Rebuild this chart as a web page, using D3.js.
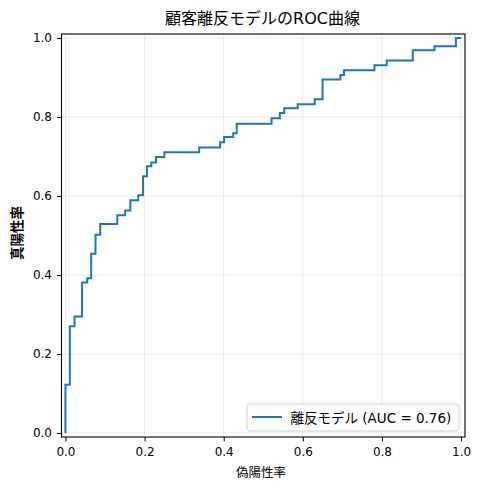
<!DOCTYPE html>
<html>
<head>
<meta charset="utf-8">
<script src="https://cdn.jsdelivr.net/npm/d3@7"></script>
<style>
  body { margin: 0; background: #fff; }
  text { font-family: "DejaVu Sans", "Noto Sans CJK JP", sans-serif; fill: #000; }
</style>
</head>
<body>
<script>
// ROC corner points (false positive rate, true positive rate)
var fpr = [0, 0, 0.011, 0.011, 0.023, 0.023, 0.042, 0.042, 0.055, 0.055, 0.065, 0.065,
    0.076, 0.076, 0.088, 0.088, 0.131, 0.131, 0.151, 0.151, 0.164, 0.164, 0.184, 0.184,
    0.196, 0.196, 0.206, 0.206, 0.217, 0.217, 0.229, 0.229, 0.250, 0.250, 0.338, 0.338,
    0.391, 0.391, 0.401, 0.401, 0.424, 0.424, 0.433, 0.433, 0.521, 0.521, 0.542, 0.542,
    0.553, 0.553, 0.587, 0.587, 0.630, 0.630, 0.650, 0.650, 0.695, 0.695, 0.704, 0.704,
    0.781, 0.781, 0.812, 0.812, 0.878, 0.878, 0.933, 0.933, 0.987, 0.987, 1];
var tpr = [0, 0.122, 0.122, 0.270, 0.270, 0.295, 0.295, 0.381, 0.381, 0.392, 0.392, 0.454,
    0.454, 0.502, 0.502, 0.529, 0.529, 0.551, 0.551, 0.563, 0.563, 0.589, 0.589, 0.602,
    0.602, 0.650, 0.650, 0.675, 0.675, 0.685, 0.685, 0.699, 0.699, 0.711, 0.711, 0.723,
    0.723, 0.736, 0.736, 0.749, 0.749, 0.759, 0.759, 0.783, 0.783, 0.797, 0.797, 0.810,
    0.810, 0.822, 0.822, 0.832, 0.832, 0.845, 0.845, 0.895, 0.895, 0.906, 0.906, 0.918,
    0.918, 0.931, 0.931, 0.943, 0.943, 0.969, 0.969, 0.979, 0.979, 1, 1];
var xTicks = [0, 0.2, 0.4, 0.6, 0.8, 1.0];
var yTicks = [0, 0.2, 0.4, 0.6, 0.8, 1.0];
var title = "顧客離反モデルのROC曲線";
var xLabel = "偽陽性率";
var yLabel = "真陽性率";
var legendLabel = "離反モデル (AUC = 0.76)";

// set the dimensions and margins of the graph
var margin = { top: 34, right: 17, bottom: 53, left: 61.5 },
    width = 482 - margin.left - margin.right,
    height = 490 - margin.top - margin.bottom;

var x = d3.scaleLinear().domain([-0.01, 1.01]).range([0, width]);
var y = d3.scaleLinear().domain([-0.01, 1.01]).range([height, 0]);

var points = fpr.map(function (d, i) { return [d, tpr[i]]; });

var rocline = d3.line()
    .x(function (d) { return x(d[0]); })
    .y(function (d) { return y(d[1]); });

var svg = d3.select("body").append("svg")
    .attr("width", 482)
    .attr("height", 490);

var g = svg.append("g")
    .attr("transform", "translate(" + margin.left + "," + margin.top + ")");

// grid
g.selectAll(".vgrid").data(xTicks).enter().append("line")
    .attr("x1", function (d) { return x(d); }).attr("x2", function (d) { return x(d); })
    .attr("y1", 0).attr("y2", height)
    .attr("stroke", "#b0b0b0").attr("stroke-opacity", 0.3).attr("stroke-width", 0.8);
g.selectAll(".hgrid").data(yTicks).enter().append("line")
    .attr("y1", function (d) { return y(d); }).attr("y2", function (d) { return y(d); })
    .attr("x1", 0).attr("x2", width)
    .attr("stroke", "#b0b0b0").attr("stroke-opacity", 0.3).attr("stroke-width", 0.8);

// curve
g.append("path")
    .datum(points)
    .attr("fill", "none")
    .attr("stroke", "#1f77b4")
    .attr("stroke-width", 2)
    .attr("d", rocline);

// axes
var xAxis = g.append("g")
    .attr("transform", "translate(0," + height + ")")
    .call(d3.axisBottom(x).tickValues(xTicks).tickFormat(d3.format(".1f")).tickSizeOuter(0).tickSize(4.5).tickPadding(6));
var yAxis = g.append("g")
    .call(d3.axisLeft(y).tickValues(yTicks).tickFormat(d3.format(".1f")).tickSizeOuter(0).tickSize(4.5).tickPadding(5));
[xAxis, yAxis].forEach(function (a) {
    a.select(".domain").remove();
    a.selectAll("line").attr("stroke", "#000").attr("stroke-width", 1);
    a.selectAll("text").attr("font-size", 12).style("font-family", "'DejaVu Sans', sans-serif").attr("fill", "#000");
});

// frame
g.append("rect")
    .attr("width", width).attr("height", height)
    .attr("fill", "none").attr("stroke", "#000").attr("stroke-width", 1.1);

// title and labels
svg.append("text")
    .attr("x", 262.5).attr("y", 24)
    .attr("text-anchor", "middle").attr("font-size", 16)
    .text(title);
svg.append("text")
    .attr("x", 261).attr("y", 477)
    .attr("text-anchor", "middle").attr("font-size", 12.5)
    .text(xLabel);
svg.append("text")
    .attr("transform", "translate(22,233) rotate(-90)")
    .attr("text-anchor", "middle").attr("font-size", 13.5).attr("font-weight", "bold")
    .text(yLabel);

// legend
var legend = g.append("g")
    .attr("transform", "translate(" + (width - 218) + "," + (height - 33) + ")");
legend.append("rect")
    .attr("width", 212).attr("height", 27).attr("rx", 3)
    .attr("fill", "#fff").attr("fill-opacity", 0.8)
    .attr("stroke", "#d0d0d0").attr("stroke-width", 1);
legend.append("line")
    .attr("x1", 5).attr("x2", 35).attr("y1", 13).attr("y2", 13)
    .attr("stroke", "#1f77b4").attr("stroke-width", 2);
legend.append("text")
    .attr("x", 43.5).attr("y", 18.5)
    .attr("font-size", 13.5)
    .text(legendLabel);
</script>
</body>
</html>
